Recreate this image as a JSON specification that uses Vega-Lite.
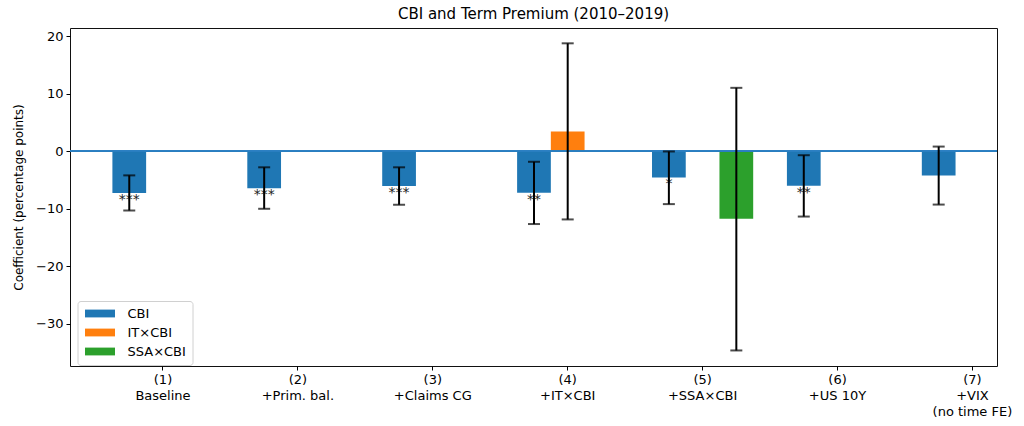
{
  "$schema": "https://vega.github.io/schema/vega-lite/v6.json",
  "autosize": "none",
  "padding": {"left": 70, "top": 28, "right": 27, "bottom": 60},
  "width": 927,
  "height": 338,
  "background": "#ffffff",
  "config": {
    "font": "DejaVu Sans",
    "view": {"stroke": "#111111", "strokeWidth": 1}
  },
  "title": {
    "text": "CBI and Term Premium (2010–2019)",
    "fontSize": 15,
    "fontWeight": "normal",
    "color": "#000000",
    "anchor": "middle",
    "frame": "group",
    "offset": 6
  },
  "data": {
    "values": [
      {"model": "(1)\nBaseline", "series": "CBI", "coef": -7.25, "lo": -10.3, "hi": -4.2, "stars": "***"},
      {"model": "(2)\n+Prim. bal.", "series": "CBI", "coef": -6.45, "lo": -10.0, "hi": -2.8, "stars": "***"},
      {"model": "(3)\n+Claims CG", "series": "CBI", "coef": -6.05, "lo": -9.3, "hi": -2.8, "stars": "***"},
      {"model": "(4)\n+IT×CBI", "series": "CBI", "coef": -7.2, "lo": -12.65, "hi": -1.84, "stars": "**"},
      {"model": "(4)\n+IT×CBI", "series": "IT×CBI", "coef": 3.42, "lo": -11.85, "hi": 18.73, "stars": ""},
      {"model": "(5)\n+SSA×CBI", "series": "CBI", "coef": -4.55, "lo": -9.19, "hi": -0.05, "stars": "*"},
      {"model": "(5)\n+SSA×CBI", "series": "SSA×CBI", "coef": -11.75, "lo": -34.6, "hi": 11.0, "stars": ""},
      {"model": "(6)\n+US 10Y", "series": "CBI", "coef": -6.0, "lo": -11.35, "hi": -0.7, "stars": "**"},
      {"model": "(7)\n+VIX\n(no time FE)", "series": "CBI", "coef": -4.22, "lo": -9.27, "hi": 0.8, "stars": ""}
    ]
  },
  "encoding": {
    "x": {
      "field": "model",
      "type": "nominal",
      "sort": null,
      "scale": {"type": "band", "range": [42.4, 953], "paddingInner": 0.25, "paddingOuter": 0},
      "axis": {
        "title": null,
        "labelAngle": 0,
        "domain": false,
        "tickSize": 4,
        "tickColor": "#000000",
        "labelPadding": 3,
        "labelFontSize": 13,
        "labelLineHeight": 16,
        "labelBaseline": "top",
        "labelColor": "#000000",
        "labelExpr": "split(datum.label, '\\n')"
      }
    },
    "xOffset": {
      "field": "series",
      "type": "nominal",
      "scale": {"domain": ["CBI", "IT×CBI", "SSA×CBI"], "paddingInner": 0, "paddingOuter": 0}
    }
  },
  "layer": [
    {
      "mark": {"type": "bar"},
      "encoding": {
        "y": {
          "field": "coef",
          "type": "quantitative",
          "scale": {"domain": [-37.3, 21.39], "nice": false, "zero": false},
          "axis": {
            "values": [-30, -20, -10, 0, 10, 20],
            "grid": false,
            "domain": false,
            "tickSize": 4,
            "tickColor": "#000000",
            "labelPadding": 3,
            "labelFontSize": 13,
            "labelColor": "#000000",
            "title": "Coefficient (percentage points)",
            "titleFontSize": 12,
            "titleFontWeight": "normal",
            "titleColor": "#000000",
            "titlePadding": 10
          }
        },
        "color": {
          "field": "series",
          "type": "nominal",
          "scale": {"domain": ["CBI", "IT×CBI", "SSA×CBI"], "range": ["#1f77b4", "#ff7f0e", "#2ca02c"]},
          "legend": {
            "title": null,
            "orient": "none",
            "legendX": 7.5,
            "legendY": 273,
            "symbolType": "M-3,-0.78H3V0.78H-3Z",
            "symbolSize": 100,
            "symbolOffset": 10,
            "symbolStrokeWidth": 0,
            "labelFontSize": 13,
            "labelColor": "#000000",
            "labelOffset": 21,
            "rowPadding": 5,
            "padding": 6,
            "strokeColor": "#d0d0d0",
            "fillColor": "#ffffff",
            "cornerRadius": 3
          }
        }
      }
    },
    {
      "mark": {"type": "rule", "color": "#2a7fc0", "strokeWidth": 1},
      "encoding": {"x": null, "xOffset": null, "y": {"datum": 0}}
    },
    {
      "mark": {"type": "text", "baseline": "top", "fontSize": 14, "color": "#222222"},
      "encoding": {
        "y": {"field": "coef", "type": "quantitative"},
        "text": {"field": "stars"}
      }
    },
    {
      "mark": {"type": "rule", "color": "#000000", "strokeWidth": 2},
      "encoding": {
        "y": {"field": "lo", "type": "quantitative"},
        "y2": {"field": "hi"}
      }
    },
    {
      "mark": {"type": "tick", "color": "#000000", "size": 12, "thickness": 2},
      "encoding": {"y": {"field": "lo", "type": "quantitative"}}
    },
    {
      "mark": {"type": "tick", "color": "#000000", "size": 12, "thickness": 2},
      "encoding": {"y": {"field": "hi", "type": "quantitative"}}
    }
  ]
}
